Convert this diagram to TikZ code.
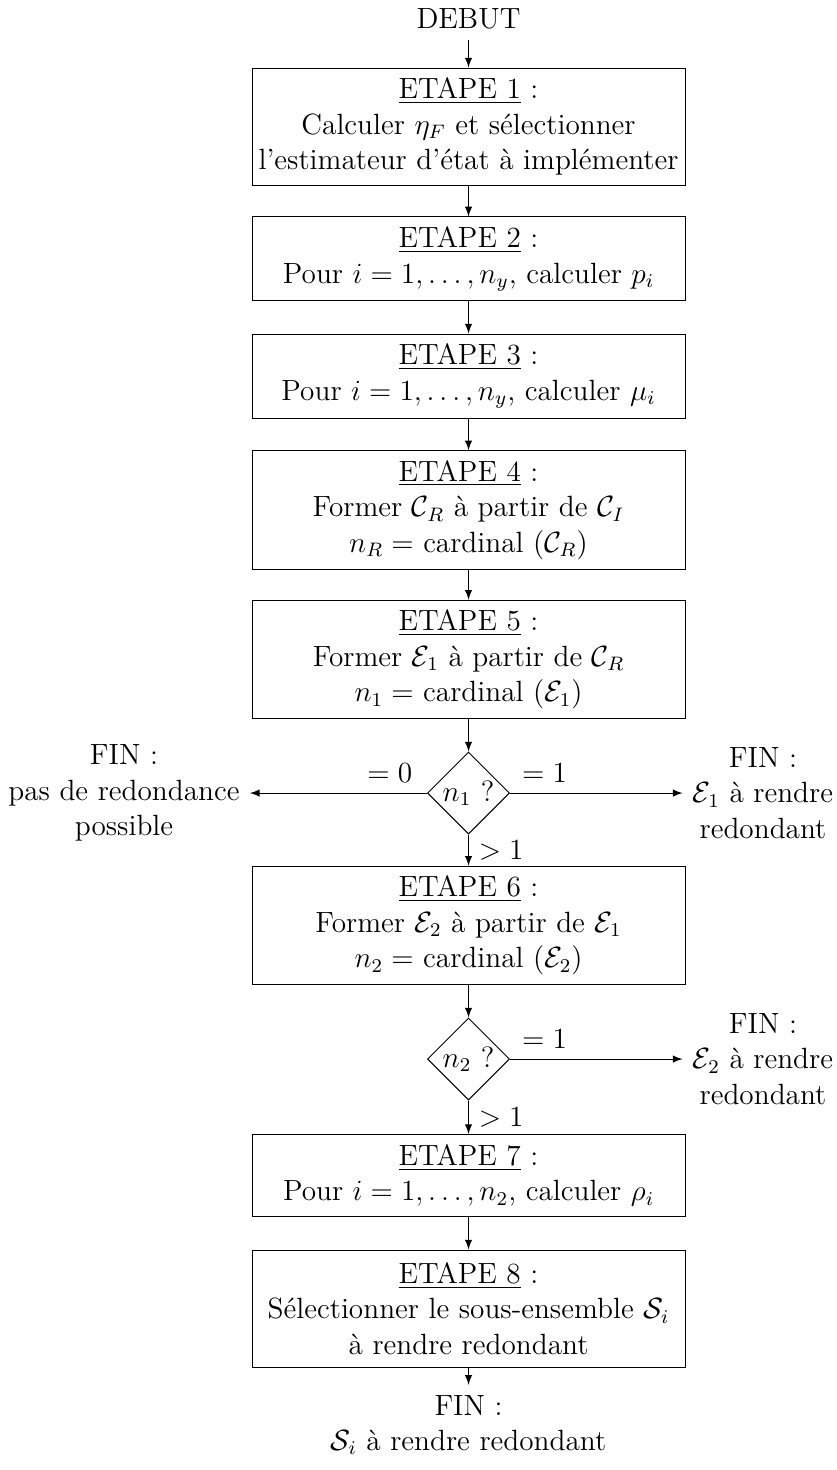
\documentclass[12pt,tikz,border=0pt]{standalone}
\usepackage{fontspec}
\usetikzlibrary{shapes.geometric}
\begin{document}
\begin{tikzpicture}[>=latex,etape_node/.style={rectangle,draw,minimum width=6.237cm,align=center,inner xsep=2pt},etape2_node/.style={etape_node,minimum height=1.181cm},etape3_node/.style={etape_node,minimum height=1.685cm},test_node/.style={diamond,draw,aspect=1,minimum size=1.181cm,inner sep=0pt},fin_node/.style={align=center}]
		
		\useasboundingbox (0,0) rectangle (12.041,-21.172);
		
		\node (0) at (6.748,-0.274) {DEBUT};
		\node[etape3_node] (1) at (6.748,-1.822) {\underline{ETAPE 1} :\\ Calculer $\eta_F$ et sélectionner\\ l'estimateur d'état à implémenter};
		\node[etape2_node] (2) at (6.748,-3.730) {\underline{ETAPE 2} :\\ Pour $i=1,\ldots,n_y$, calculer $p_i$};
		\node[etape2_node] (3) at (6.748,-5.416) {\underline{ETAPE 3} :\\ Pour $i=1,\ldots,n_y$, calculer $\mu_i$};
		\node[etape3_node] (4) at (6.748,-7.346) {\underline{ETAPE 4} :\\ Former $\mathcal{C}_R$ à partir de $\mathcal{C}_I$\\ $n_R=$ cardinal $(\mathcal{C}_R)$};
		\node[etape3_node] (5) at (6.748,-9.499) {\underline{ETAPE 5} :\\ Former $\mathcal{E}_1$ à partir de $\mathcal{C}_R$\\ $n_1=$ cardinal $(\mathcal{E}_1)$};
		\node[test_node] (t1) at (6.748,-11.422) {$n_1$ ?};
		\node[etape3_node] (6) at (6.748,-13.330) {\underline{ETAPE 6} :\\ Former $\mathcal{E}_2$ à partir de $\mathcal{E}_1$\\ $n_2=$ cardinal $(\mathcal{E}_2)$};
		\node[test_node] (t2) at (6.748,-15.253) {$n_2$ ?};
		\node[etape2_node] (7) at (6.748,-16.931) {\underline{ETAPE 7} :\\ Pour $i=1,\ldots,n_2$, calculer $\rho_i$};
		\node[etape3_node] (8) at (6.748,-18.846) {\underline{ETAPE 8} :\\ Sélectionner le sous-ensemble $\mathcal{S}_i$\\ à rendre redondant};
		
		\node[fin_node] (f1) at (1.786,-11.422) {FIN :\\ pas de redondance\\ possible};
		\node[fin_node] (f2) at (10.989,-11.422) {FIN :\\ $\mathcal{E}_1$ à rendre\\ redondant};
		\node[fin_node] (f3) at (10.989,-15.253) {FIN :\\ $\mathcal{E}_2$ à rendre\\ redondant};
		\node[fin_node] (f4) at (6.748,-20.524) {FIN :\\ $\mathcal{S}_i$ à rendre redondant};
		
		
		\draw[->] (0) -- (1);
		\draw[->] (1) -- (2);
		\draw[->] (2) -- (3);
		\draw[->] (3) -- (4);
		\draw[->] (4) -- (5);
		\draw[->] (5) -- (t1);
		\draw[->] (t1) -- node[above,pos=0.21] {$=0$} (f1);
		\draw[->] (t1) -- node[above,pos=0.2] {$=1$} (f2);
		\draw[->] (t1) -- node[right] {$>1$} (6);
		\draw[->] (6) -- (t2);
		\draw[->] (t2) -- node[above,pos=0.2] {$=1$} (f3);
		\draw[->] (t2) -- node[right] {$>1$} (7);
		\draw[->] (7) -- (8);
		\draw[->] (8) -- (f4);
		\end{tikzpicture}
\end{document}
